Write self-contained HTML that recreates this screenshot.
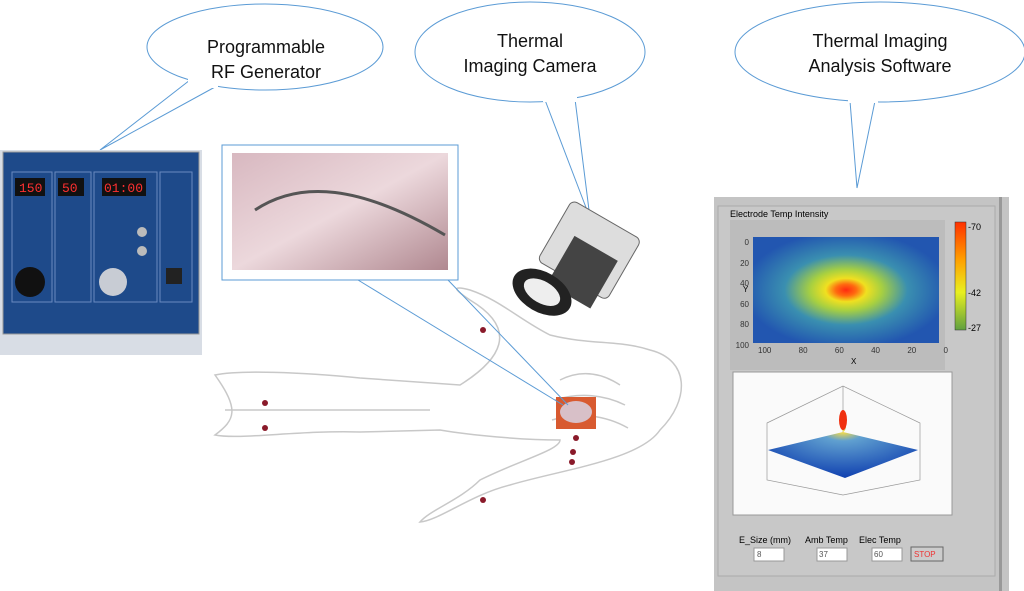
<!DOCTYPE html>
<html><head><style>
body{margin:0;width:1024px;height:591px;background:#fff;position:relative;overflow:hidden;font-family:"Liberation Sans",sans-serif}
.a{position:absolute}
</style></head><body>
<svg class="a" style="left:0;top:0" width="1024" height="591">
<defs>
<radialGradient id="hm" cx="0.5" cy="0.5" r="0.55">
<stop offset="0" stop-color="#ff2a10"/><stop offset="0.1" stop-color="#ff6a10"/><stop offset="0.2" stop-color="#f0e020"/><stop offset="0.35" stop-color="#a8d040"/><stop offset="0.6" stop-color="#3a8fb0"/><stop offset="1" stop-color="#2256b0"/></radialGradient>
<linearGradient id="cb" x1="0" y1="0" x2="0" y2="1"><stop offset="0" stop-color="#ff3000"/><stop offset="0.35" stop-color="#ffa000"/><stop offset="0.65" stop-color="#e8f020"/><stop offset="1" stop-color="#60a040"/></linearGradient>
<radialGradient id="sf" cx="0.5" cy="0.3" r="0.7"><stop offset="0" stop-color="#ffe040"/><stop offset="0.2" stop-color="#60a0d0"/><stop offset="1" stop-color="#1040b0"/></radialGradient>
<linearGradient id="heart" x1="0" y1="0" x2="1" y2="1"><stop offset="0" stop-color="#d8b8c0"/><stop offset="0.5" stop-color="#ecd8dc"/><stop offset="1" stop-color="#b08890"/></linearGradient>
</defs>
<g fill="#fff" stroke="#5b9bd5" stroke-width="1">
<path d="M190,80 L100,150 L215,87"/>
<ellipse cx="265" cy="47" rx="118" ry="43"/>
<path d="M545,100 L590,218 L575,99"/>
<ellipse cx="530" cy="52" rx="115" ry="50"/>
<path d="M850,101 L857,188 L875,101"/>
<ellipse cx="880" cy="52" rx="145" ry="50"/>
</g>
<g fill="#fff"><rect x="188" y="78" width="30" height="10"/><rect x="543" y="94" width="34" height="8"/><rect x="848" y="95" width="30" height="8"/></g>
<g font-size="18" fill="#111" text-anchor="middle">
<text x="266" y="53">Programmable</text><text x="266" y="78">RF Generator</text>
<text x="530" y="47">Thermal</text><text x="530" y="72">Imaging Camera</text>
<text x="880" y="47">Thermal Imaging</text><text x="880" y="72">Analysis Software</text>
</g>
<g fill="none" stroke="#c8c8c8" stroke-width="1.5">
<path d="M215,375 C240,370 300,372 360,378 L460,385 C500,360 520,330 470,300 C455,290 450,285 470,290 C500,300 520,320 550,335 C590,345 620,340 650,350 C690,360 690,400 660,430 C640,460 560,470 510,485 C470,495 440,520 420,522 C430,510 460,500 480,480 C520,460 560,450 560,440 C520,440 470,435 440,430 L360,432 C300,430 240,440 215,435 C235,420 240,410 215,375 Z"/>
<path d="M225,410 L430,410"/>
<path d="M560,380 C580,370 600,372 620,385 M555,400 C580,392 605,395 625,405 M552,420 C578,412 605,415 628,428"/>
</g>
<g fill="#8a1a2a"><circle cx="483" cy="330" r="3"/><circle cx="265" cy="403" r="3"/><circle cx="265" cy="428" r="3"/><circle cx="576" cy="438" r="3"/><circle cx="573" cy="452" r="3"/><circle cx="572" cy="462" r="3"/><circle cx="483" cy="500" r="3"/></g>
<rect x="556" y="397" width="40" height="32" fill="#d85a30"/><ellipse cx="576" cy="412" rx="16" ry="11" fill="#d8c0c8"/>
<rect x="222" y="145" width="236" height="135" fill="#fff" stroke="#5b9bd5"/>
<rect x="232" y="153" width="216" height="117" fill="url(#heart)"/>
<path d="M255,210 C300,180 360,185 445,235" stroke="#555" stroke-width="3" fill="none"/>
<line x1="358" y1="280" x2="563" y2="405" stroke="#5b9bd5"/><line x1="448" y1="280" x2="568" y2="405" stroke="#5b9bd5"/>
<g transform="rotate(30 575 265)">
<rect x="540" y="210" width="80" height="70" rx="6" fill="#ddd" stroke="#666"/>
<rect x="560" y="240" width="50" height="55" fill="#444"/>
<ellipse cx="560" cy="305" rx="32" ry="20" fill="#222"/><ellipse cx="560" cy="305" rx="20" ry="11" fill="#eee"/>
</g>
<rect x="0" y="150" width="202" height="205" fill="#d8dde5"/>
<rect x="3" y="152" width="196" height="182" fill="#1e4a8a" stroke="#999"/>
<g fill="none" stroke="#6a8ac0"><rect x="12" y="172" width="40" height="130"/><rect x="55" y="172" width="36" height="130"/><rect x="94" y="172" width="63" height="130"/><rect x="160" y="172" width="32" height="130"/></g>
<g fill="#111"><rect x="15" y="178" width="30" height="18"/><rect x="58" y="178" width="26" height="18"/><rect x="102" y="178" width="44" height="18"/></g>
<g fill="#ff3030" font-family="Liberation Mono" font-size="13"><text x="19" y="192">150</text><text x="62" y="192">50</text><text x="104" y="192">01:00</text></g>
<circle cx="30" cy="282" r="15" fill="#111"/><circle cx="113" cy="282" r="14" fill="#c8ccd4"/>
<circle cx="142" cy="232" r="5" fill="#bbb"/><circle cx="142" cy="251" r="5" fill="#bbb"/><rect x="166" y="268" width="16" height="16" fill="#222"/>
<rect x="714" y="197" width="295" height="394" fill="#c4c4c4"/>
<rect x="999" y="197" width="3" height="394" fill="#999"/>
<rect x="718" y="206" width="277" height="370" fill="#c8c8c8" stroke="#aaa"/>
<rect x="730" y="220" width="215" height="150" fill="#bcbcbc"/>
<rect x="753" y="237" width="186" height="106" fill="url(#hm)"/>
<rect x="955" y="222" width="11" height="108" fill="url(#cb)" stroke="#333" stroke-width="0.5"/>
<rect x="733" y="372" width="219" height="143" fill="#fafafa" stroke="#999"/>
<g stroke="#999" fill="none" stroke-width="0.7"><path d="M767,423 L843,386 L920,423 L920,480 L843,495 L767,480 Z M843,386 L843,445"/></g>
<path d="M768,450 L843,432 C838,420 845,410 843,412 C846,420 848,430 843,432 L918,450 L845,478 Z" fill="url(#sf)"/>
<ellipse cx="843" cy="420" rx="4" ry="10" fill="#f03010"/>
<g fill="#fff" stroke="#999"><rect x="754" y="548" width="30" height="13"/><rect x="817" y="548" width="30" height="13"/><rect x="872" y="548" width="30" height="13"/></g>
<rect x="911" y="547" width="32" height="14" fill="#ccc" stroke="#666"/>
</svg>
<div class="a" style="left:730px;top:209px;font-size:9px">Electrode Temp Intensity</div>
<div class="a" style="left:739px;top:535px;font-size:9px">E_Size (mm)</div>
<div class="a" style="left:805px;top:535px;font-size:9px">Amb Temp</div>
<div class="a" style="left:859px;top:535px;font-size:9px">Elec Temp</div>
<div class="a" style="left:757px;top:550px;font-size:8px;color:#555">8</div>
<div class="a" style="left:819px;top:550px;font-size:8px;color:#555">37</div>
<div class="a" style="left:874px;top:550px;font-size:8px;color:#555">60</div>
<div class="a" style="left:914px;top:550px;font-size:8px;color:#e33">STOP</div>
<div class="a" style="left:968px;top:222px;font-size:9px">-70</div>
<div class="a" style="left:968px;top:288px;font-size:9px">-42</div>
<div class="a" style="left:968px;top:323px;font-size:9px">-27</div>
<div class="a" style="left:735px;top:233px;font-size:8px;color:#333;line-height:20.5px;text-align:right;width:14px">0<br>20<br>40<br>60<br>80<br>100</div>
<div class="a" style="left:758px;top:346px;font-size:8px;color:#333;width:190px;display:flex;justify-content:space-between"><span>100</span><span>80</span><span>60</span><span>40</span><span>20</span><span>0</span></div>
<div class="a" style="left:851px;top:357px;font-size:8px">X</div>
<div class="a" style="left:743px;top:285px;font-size:8px">Y</div>
</body></html>
